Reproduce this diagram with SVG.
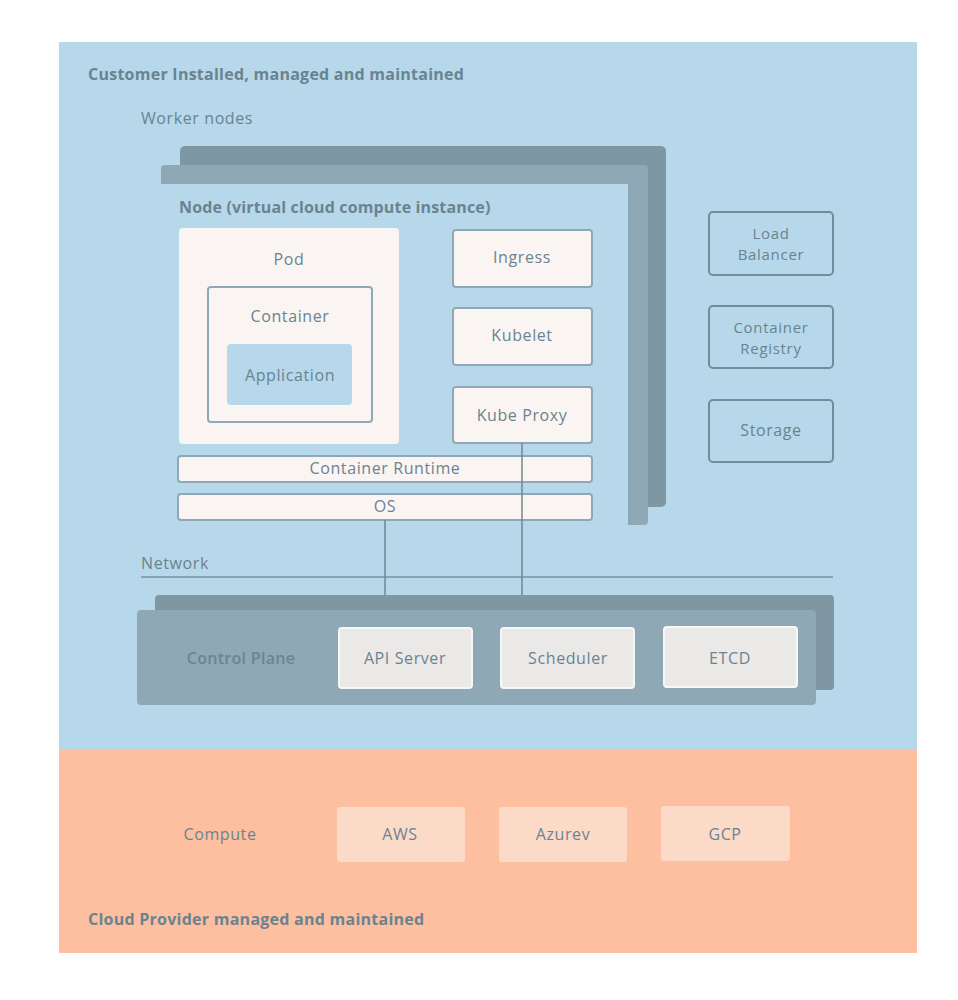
<svg xmlns="http://www.w3.org/2000/svg" width="958" height="1000" viewBox="0 0 958 1000">
<style>
text{font-family:"Open Sans","Noto Sans",sans-serif;fill:#6a8391;}
.t{font-size:16px;font-weight:500;letter-spacing:0.6px;}
.s{font-size:15px;letter-spacing:0.7px;}
.h{font-size:16px;font-weight:700;letter-spacing:0.25px;}
.c{text-anchor:middle;dominant-baseline:central;}
.box{fill:#faf5f2;stroke:#8fa8b5;stroke-width:2;}
.side{fill:none;stroke:#728c99;stroke-width:2;}
.cp{fill:#ebe8e8;stroke:#f7f7f7;stroke-width:2;}
.cloud{fill:#fcdac8;}
</style>
<rect x="0" y="0" width="958" height="1000" fill="#ffffff"/>
<rect id="customer" x="59" y="42" width="858" height="708" fill="#b6d8ea"/>
<rect id="provider" x="59" y="750" width="858" height="203" fill="#fdbf9f"/>
<text class="h" x="88" y="80">Customer Installed, managed and maintained</text>
<text class="t" x="141" y="124">Worker nodes</text>

<g id="worker-stack">
<rect x="180" y="146" width="486" height="361" rx="5" fill="#7f97a3"/>
<rect x="161" y="165" width="487" height="360" rx="4" fill="#8fa8b5"/>
<rect x="161" y="184" width="467" height="360" fill="#b6d8ea"/>
<rect x="161" y="525" width="480" height="25" fill="#b6d8ea"/>
</g>
<g id="node">
<text class="h" x="179" y="213" style="letter-spacing:0.15px">Node (virtual cloud compute instance)</text>
</g>
<g id="pod">
<rect x="179" y="228" width="220" height="216" rx="4" fill="#faf5f2"/>
<text class="t c" x="289" y="259">Pod</text>
</g>
<g id="container">
<rect x="208" y="287" width="164" height="135" rx="3" fill="#faf5f2" stroke="#8fa8b5" stroke-width="2"/>
<text class="t c" x="290" y="316">Container</text>
</g>
<g id="application">
<rect x="227" y="344" width="125" height="61" rx="4" fill="#b6d8ea"/>
<text class="t c" x="290" y="375">Application</text>
</g>
<g id="ingress">
<rect class="box" x="453" y="230" width="139" height="57" rx="3"/>
<text class="t c" x="522" y="257">Ingress</text>
</g>
<g id="kubelet">
<rect class="box" x="453" y="308" width="139" height="57" rx="3"/>
<text class="t c" x="522" y="335">Kubelet</text>
</g>
<g id="kube-proxy">
<rect class="box" x="453" y="387" width="139" height="56" rx="3"/>
<text class="t c" x="522" y="415">Kube Proxy</text>
</g>
<g id="container-runtime">
<rect class="box" x="178" y="456" width="414" height="26" rx="3"/>
<text class="t c" x="385" y="468">Container Runtime</text>
</g>
<g id="os">
<rect class="box" x="178" y="494" width="414" height="26" rx="3"/>
<text class="t c" x="385" y="506">OS</text>
</g>

<g id="load-balancer">
<rect class="side" x="709" y="212" width="124" height="63" rx="4"/>
<text class="t s c" x="771" y="232.5">Load</text>
<text class="t s c" x="771" y="253.5">Balancer</text>
</g>
<g id="container-registry">
<rect class="side" x="709" y="306" width="124" height="62" rx="4"/>
<text class="t s c" x="771" y="326.5">Container</text>
<text class="t s c" x="771" y="347.5">Registry</text>
</g>
<g id="storage">
<rect class="side" x="709" y="400" width="124" height="62" rx="4"/>
<text class="t c" x="771" y="430">Storage</text>
</g>

<g id="network">
<text class="t" x="141" y="569">Network</text>
<line x1="141" y1="577" x2="833" y2="577" stroke="#7a929e" stroke-width="1.5"/>
</g>

<g id="connectors">
<line x1="385" y1="520" x2="385" y2="597" stroke="#6f8793" stroke-width="1.5"/>
<line x1="522" y1="443" x2="522" y2="597" stroke="#6f8793" stroke-width="1.5"/>
</g>

<g id="control-plane">
<rect x="155" y="595" width="679" height="95" rx="4" fill="#7f97a3"/>
<rect x="137" y="610" width="679" height="95" rx="4" fill="#8fa8b5"/>
<text class="t c" x="241" y="658" style="font-weight:600;letter-spacing:0.3px;fill:#6d8591">Control Plane</text>
</g>
<g id="api-server">
<rect class="cp" x="339" y="628" width="133" height="60" rx="3"/>
<text class="t c" x="405" y="658">API Server</text>
</g>
<g id="scheduler">
<rect class="cp" x="501" y="628" width="133" height="60" rx="3"/>
<text class="t c" x="568" y="658">Scheduler</text>
</g>
<g id="etcd">
<rect class="cp" x="664" y="627" width="133" height="60" rx="3"/>
<text class="t c" x="730" y="658">ETCD</text>
</g>

<g id="compute">
<text class="t c" x="220" y="834">Compute</text>
</g>
<g id="aws">
<rect class="cloud" x="337" y="807" width="128" height="55" rx="3"/>
<text class="t c" x="400" y="834">AWS</text>
</g>
<g id="azure">
<rect class="cloud" x="499" y="807" width="128" height="55" rx="3"/>
<text class="t c" x="563" y="834">Azurev</text>
</g>
<g id="gcp">
<rect class="cloud" x="661" y="806" width="129" height="55" rx="3"/>
<text class="t c" x="725" y="834">GCP</text>
</g>
<text class="h" x="88" y="925">Cloud Provider managed and maintained</text>
</svg>
